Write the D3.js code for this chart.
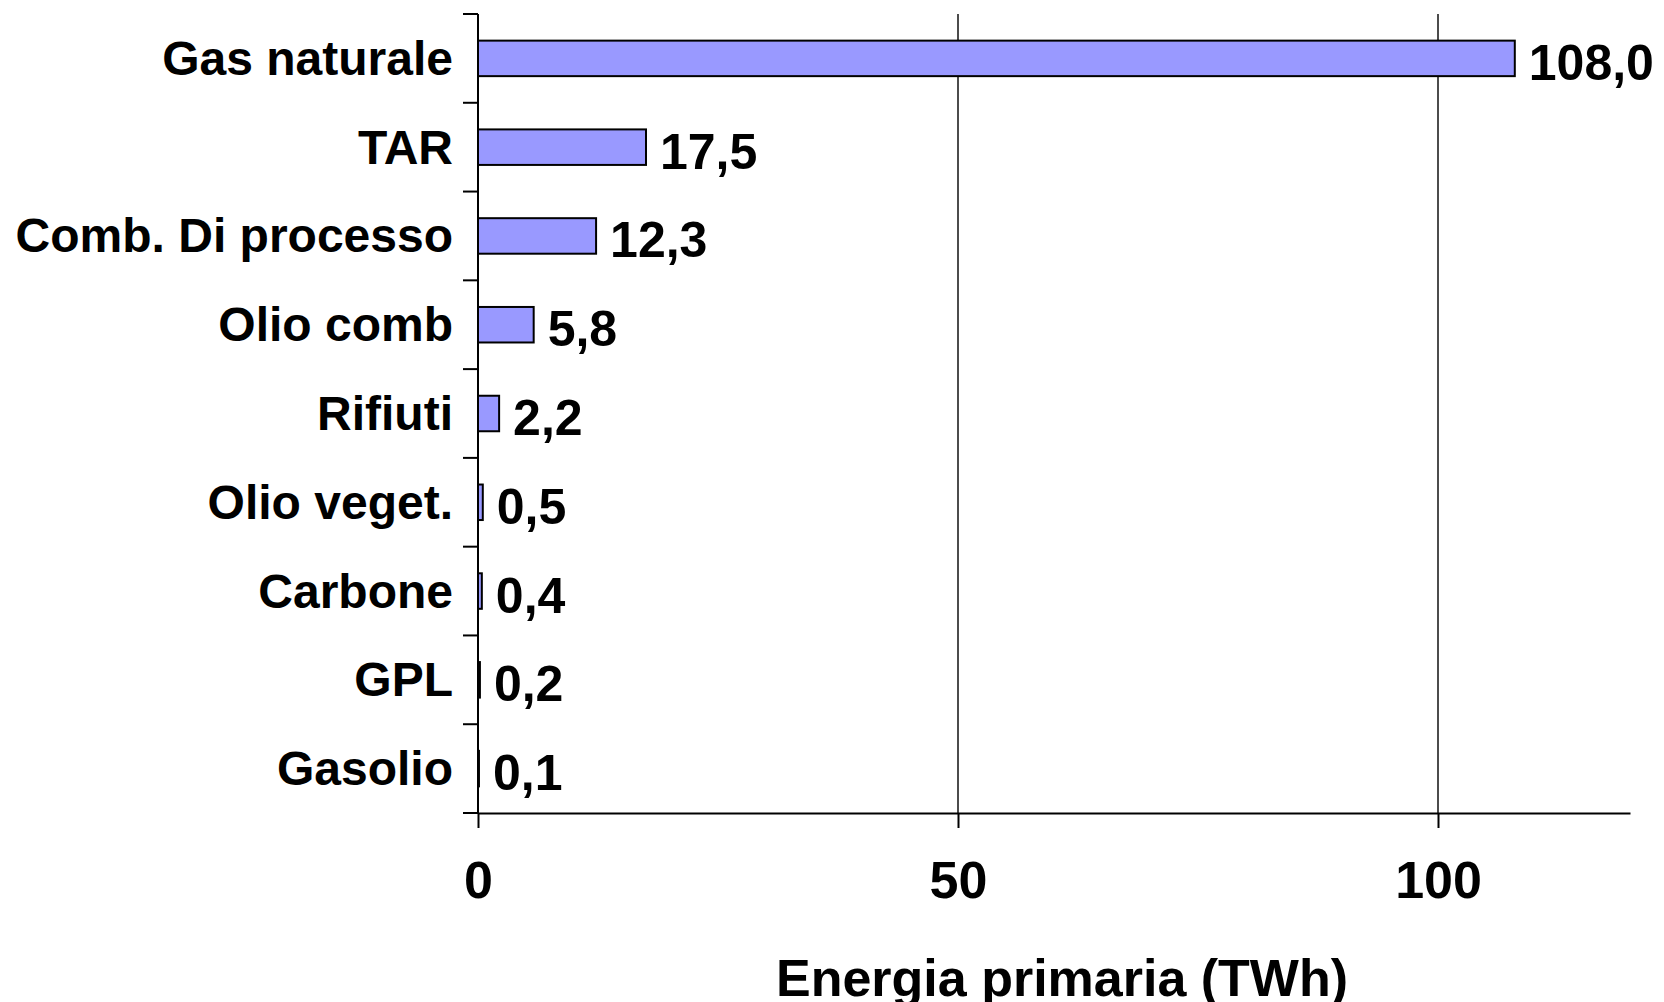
<!DOCTYPE html>
<html>
<head>
<meta charset="utf-8">
<script src="https://cdn.jsdelivr.net/npm/d3@7"></script>
<style>
  html, body { margin: 0; padding: 0; background: #fff; }
  svg { display: block; }
  text { font-family: "Liberation Sans", Arial, Helvetica, sans-serif; font-weight: bold; fill: #000; }
</style>
</head>
<body>
<svg id="chart" width="1664" height="1002"></svg>
<script>
// ---- Data ----
const categories = ["Gas naturale", "TAR", "Comb. Di processo", "Olio comb", "Rifiuti", "Olio veget.", "Carbone", "GPL", "Gasolio"];
const values = [108.0, 17.5, 12.3, 5.8, 2.2, 0.5, 0.4, 0.2, 0.1];
const xTicks = [0, 50, 100];
const xDomain = [0, 120];
const xTitle = "Energia primaria (TWh)";

// ---- Layout ----
const plotLeft = 478, plotRight = 1630, plotTop = 14, plotBottom = 813;
const svg = d3.select("#chart");

const x = d3.scaleLinear().domain(xDomain).range([plotLeft, plotRight]);
const y = d3.scaleBand().domain(categories).range([plotTop, plotBottom]).padding(0);
const bw = y.bandwidth();
const fmt = d3.formatLocale({decimal: ",", thousands: ".", grouping: [3], currency: ["", "€"]}).format(".1f");

// gridlines
svg.append("g").selectAll("line").data(xTicks.filter(t => t > 0)).join("line")
  .attr("x1", d => x(d)).attr("x2", d => x(d))
  .attr("y1", plotTop).attr("y2", plotBottom)
  .attr("stroke", "#111").attr("stroke-width", 1.5);

// bars
const data = categories.map((c, i) => ({c, v: values[i]}));
svg.append("g").selectAll("rect").data(data).join("rect")
  .attr("x", x(0))
  .attr("y", d => y(d.c) + bw * 0.3)
  .attr("width", d => x(d.v) - x(0))
  .attr("height", bw * 0.4)
  .attr("fill", "#9999FF")
  .attr("stroke", "#000")
  .attr("stroke-width", 2);

// value labels
svg.append("g").selectAll("text").data(data).join("text")
  .attr("x", d => x(d.v) + 14)
  .attr("y", d => y(d.c) + bw / 2 + 21.5)
  .attr("font-size", 50)
  .text(d => fmt(d.v));

// x axis
const xAxis = d3.axisBottom(x).tickValues(xTicks).tickSize(15).tickSizeOuter(0).tickPadding(33).tickFormat(d3.format("d"));
const gx = svg.append("g").attr("transform", `translate(0,${plotBottom})`).call(xAxis);
gx.attr("font-family", null).attr("font-size", null);
gx.select(".domain").attr("stroke", "#000").attr("stroke-width", 2);
gx.selectAll(".tick line").attr("stroke", "#000").attr("stroke-width", 2);
gx.selectAll(".tick text").attr("font-size", 52).attr("fill", "#000");

// y axis line and ticks at band boundaries
svg.append("line").attr("x1", x(0)).attr("x2", x(0)).attr("y1", plotTop).attr("y2", plotBottom)
  .attr("stroke", "#000").attr("stroke-width", 2);
const bounds = categories.map(c => y(c)).concat([y(categories[categories.length - 1]) + bw]);
svg.append("g").selectAll("line").data(bounds).join("line")
  .attr("x1", x(0) - 15).attr("x2", x(0))
  .attr("y1", d => d).attr("y2", d => d)
  .attr("stroke", "#000").attr("stroke-width", 2);

// category labels
svg.append("g").selectAll("text").data(categories).join("text")
  .attr("x", x(0) - 25)
  .attr("y", d => y(d) + bw / 2 + 16.5)
  .attr("text-anchor", "end")
  .attr("font-size", 48)
  .text(d => d);

// axis title
svg.append("text")
  .attr("x", 1062).attr("y", 996)
  .attr("text-anchor", "middle")
  .attr("font-size", 52)
  .text(xTitle);
</script>
</body>
</html>
